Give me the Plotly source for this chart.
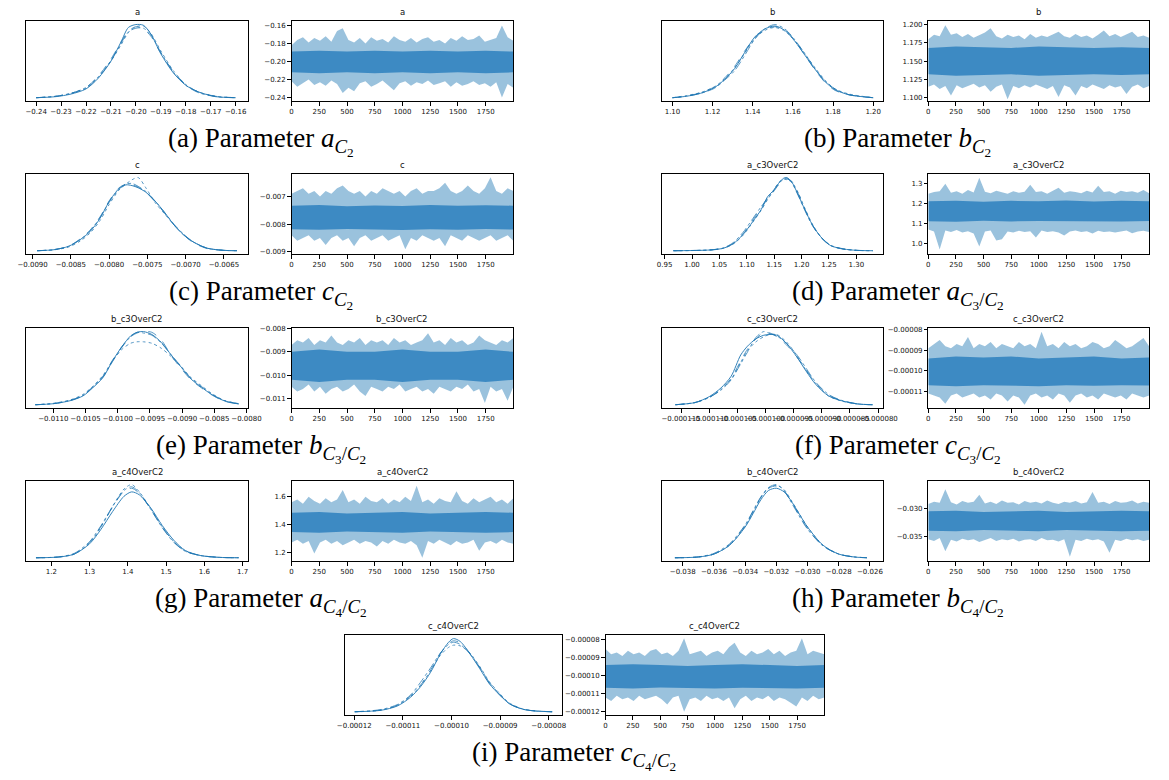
import numpy as np
import plotly.graph_objects as go

W, H = 1169, 780

# ---------------- data ----------------
# KDE curves: x grid and relative density of the 4 chains
a_kde_x = [-0.240, -0.232, -0.226, -0.220, -0.215, -0.210, -0.206, -0.203, -0.200, -0.197, -0.194, -0.190, -0.185, -0.180, -0.175, -0.168, -0.160]
a_kde_1 = [0.0, 0.015, 0.05, 0.12, 0.27, 0.50, 0.76, 0.96, 1.00, 0.99, 0.87, 0.60, 0.34, 0.17, 0.08, 0.015, 0.0]
a_kde_2 = [0.0, 0.02, 0.06, 0.14, 0.30, 0.53, 0.76, 0.91, 0.97, 0.94, 0.84, 0.61, 0.36, 0.18, 0.08, 0.02, 0.0]
a_kde_3 = [0.0, 0.02, 0.06, 0.13, 0.28, 0.51, 0.74, 0.90, 0.95, 0.95, 0.86, 0.62, 0.35, 0.17, 0.07, 0.015, 0.0]
a_kde_4 = [0.0, 0.02, 0.06, 0.14, 0.29, 0.50, 0.72, 0.89, 0.97, 0.98, 0.88, 0.64, 0.37, 0.18, 0.08, 0.02, 0.0]

b_kde_x = [1.100, 1.107, 1.114, 1.121, 1.126, 1.131, 1.136, 1.141, 1.146, 1.151, 1.156, 1.161, 1.166, 1.171, 1.176, 1.181, 1.188, 1.200]
b_kde_1 = [0.0, 0.02, 0.06, 0.14, 0.25, 0.40, 0.62, 0.83, 0.94, 0.98, 0.92, 0.77, 0.58, 0.39, 0.22, 0.11, 0.04, 0.0]
b_kde_2 = [0.0, 0.02, 0.07, 0.15, 0.27, 0.43, 0.64, 0.82, 0.93, 0.97, 0.93, 0.78, 0.58, 0.38, 0.21, 0.10, 0.04, 0.0]
b_kde_3 = [0.0, 0.02, 0.06, 0.13, 0.24, 0.37, 0.58, 0.80, 0.94, 1.00, 0.94, 0.79, 0.60, 0.40, 0.23, 0.12, 0.04, 0.0]
b_kde_4 = [0.0, 0.03, 0.07, 0.15, 0.26, 0.41, 0.61, 0.81, 0.92, 0.96, 0.91, 0.78, 0.60, 0.41, 0.24, 0.12, 0.05, 0.0]

c_kde_x = [-0.00894, -0.00872, -0.00853, -0.00838, -0.00825, -0.00812, -0.00800, -0.00787, -0.00778, -0.00770, -0.00762, -0.00752, -0.00740, -0.00728, -0.00715, -0.00703, -0.00690, -0.00672, -0.00650, -0.00633]
c_kde_1 = [0.0, 0.014, 0.06, 0.15, 0.26, 0.44, 0.67, 0.85, 0.90, 0.89, 0.86, 0.80, 0.68, 0.53, 0.35, 0.22, 0.12, 0.035, 0.005, 0.0]
c_kde_2 = [0.0, 0.016, 0.06, 0.16, 0.28, 0.46, 0.68, 0.86, 0.91, 0.90, 0.87, 0.80, 0.67, 0.52, 0.35, 0.22, 0.11, 0.03, 0.005, 0.0]
c_kde_3 = [0.0, 0.014, 0.06, 0.15, 0.27, 0.45, 0.66, 0.84, 0.91, 0.92, 0.88, 0.81, 0.68, 0.53, 0.36, 0.23, 0.12, 0.035, 0.005, 0.0]
c_kde_4 = [0.0, 0.012, 0.05, 0.13, 0.24, 0.41, 0.63, 0.83, 0.91, 0.97, 1.00, 0.86, 0.66, 0.51, 0.35, 0.22, 0.12, 0.035, 0.005, 0.0]

d_kde_x = [0.966, 1.016, 1.040, 1.058, 1.075, 1.093, 1.111, 1.126, 1.138, 1.147, 1.158, 1.167, 1.173, 1.182, 1.194, 1.206, 1.220, 1.235, 1.253, 1.277, 1.300, 1.330]
d_kde_1 = [0.0, 0.005, 0.014, 0.036, 0.095, 0.22, 0.40, 0.56, 0.74, 0.81, 0.92, 0.99, 1.00, 0.94, 0.76, 0.56, 0.35, 0.19, 0.07, 0.023, 0.005, 0.0]
d_kde_2 = [0.0, 0.006, 0.016, 0.04, 0.10, 0.23, 0.42, 0.58, 0.71, 0.79, 0.90, 0.97, 0.98, 0.95, 0.78, 0.57, 0.35, 0.18, 0.07, 0.02, 0.005, 0.0]
d_kde_3 = [0.0, 0.005, 0.015, 0.04, 0.11, 0.25, 0.44, 0.60, 0.72, 0.80, 0.91, 0.98, 0.99, 0.93, 0.75, 0.55, 0.34, 0.19, 0.075, 0.025, 0.006, 0.0]
d_kde_4 = [0.0, 0.005, 0.013, 0.035, 0.09, 0.21, 0.39, 0.55, 0.70, 0.80, 0.93, 0.98, 0.97, 0.94, 0.79, 0.58, 0.36, 0.19, 0.07, 0.022, 0.005, 0.0]

e_kde_x = [-0.01128, -0.01100, -0.01074, -0.01054, -0.01039, -0.01023, -0.01008, -0.00993, -0.00980, -0.00970, -0.00960, -0.00947, -0.00932, -0.00916, -0.00901, -0.00886, -0.00870, -0.00855, -0.00835, -0.00812]
e_kde_1 = [0.0, 0.014, 0.055, 0.12, 0.23, 0.37, 0.60, 0.80, 0.94, 0.99, 1.00, 0.96, 0.85, 0.67, 0.51, 0.35, 0.24, 0.145, 0.055, 0.01]
e_kde_2 = [0.0, 0.015, 0.055, 0.125, 0.24, 0.39, 0.61, 0.80, 0.93, 0.98, 1.00, 0.99, 0.88, 0.66, 0.49, 0.34, 0.23, 0.14, 0.05, 0.01]
e_kde_3 = [0.0, 0.015, 0.06, 0.13, 0.24, 0.38, 0.59, 0.79, 0.93, 0.99, 0.98, 0.95, 0.84, 0.67, 0.52, 0.36, 0.25, 0.15, 0.06, 0.012]
e_kde_4 = [0.0, 0.02, 0.065, 0.14, 0.25, 0.40, 0.60, 0.76, 0.84, 0.86, 0.86, 0.84, 0.77, 0.65, 0.51, 0.37, 0.26, 0.16, 0.06, 0.015]

f_kde_x = [-1.160e-4, -1.125e-4, -1.100e-4, -1.079e-4, -1.061e-4, -1.044e-4, -1.032e-4, -1.017e-4, -1.003e-4, -0.992e-4, -0.980e-4, -0.963e-4, -0.945e-4, -0.928e-4, -0.911e-4, -0.888e-4, -0.865e-4, -0.836e-4, -0.810e-4]
f_kde_1 = [0.0, 0.03, 0.11, 0.23, 0.39, 0.68, 0.80, 0.90, 0.95, 0.96, 0.95, 0.84, 0.66, 0.46, 0.28, 0.12, 0.055, 0.01, 0.0]
f_kde_2 = [0.0, 0.03, 0.10, 0.21, 0.36, 0.60, 0.76, 0.90, 0.99, 0.98, 0.93, 0.82, 0.66, 0.48, 0.30, 0.13, 0.055, 0.01, 0.0]
f_kde_3 = [0.0, 0.03, 0.10, 0.20, 0.34, 0.56, 0.72, 0.92, 1.00, 0.97, 0.94, 0.84, 0.69, 0.50, 0.31, 0.14, 0.06, 0.012, 0.0]
f_kde_4 = [0.0, 0.03, 0.10, 0.21, 0.35, 0.58, 0.74, 0.86, 0.93, 0.96, 0.96, 0.86, 0.68, 0.47, 0.29, 0.12, 0.05, 0.01, 0.0]

g_kde_x = [1.160, 1.220, 1.260, 1.300, 1.330, 1.360, 1.390, 1.410, 1.430, 1.460, 1.490, 1.520, 1.550, 1.590, 1.640, 1.690]
g_kde_1 = [0.0, 0.01, 0.05, 0.19, 0.39, 0.63, 0.84, 0.90, 0.86, 0.68, 0.44, 0.24, 0.10, 0.03, 0.005, 0.0]
g_kde_2 = [0.0, 0.01, 0.05, 0.21, 0.43, 0.69, 0.91, 0.95, 0.88, 0.66, 0.42, 0.22, 0.09, 0.03, 0.005, 0.0]
g_kde_3 = [0.0, 0.012, 0.06, 0.22, 0.44, 0.70, 0.92, 0.97, 0.89, 0.66, 0.41, 0.21, 0.09, 0.03, 0.005, 0.0]
g_kde_4 = [0.0, 0.01, 0.05, 0.20, 0.42, 0.70, 0.94, 1.00, 0.90, 0.67, 0.42, 0.22, 0.09, 0.03, 0.005, 0.0]

h_kde_x = [-0.0385, -0.0370, -0.0360, -0.0350, -0.0340, -0.0335, -0.0330, -0.0325, -0.0320, -0.0315, -0.0310, -0.0300, -0.0290, -0.0280, -0.0270, -0.0262]
h_kde_1 = [0.0, 0.01, 0.05, 0.17, 0.42, 0.60, 0.79, 0.92, 0.95, 0.90, 0.76, 0.42, 0.17, 0.05, 0.01, 0.0]
h_kde_2 = [0.0, 0.01, 0.05, 0.18, 0.44, 0.63, 0.82, 0.95, 0.98, 0.91, 0.75, 0.40, 0.16, 0.05, 0.01, 0.0]
h_kde_3 = [0.0, 0.012, 0.06, 0.19, 0.45, 0.64, 0.83, 0.96, 1.00, 0.92, 0.74, 0.39, 0.16, 0.05, 0.012, 0.0]
h_kde_4 = [0.0, 0.01, 0.05, 0.17, 0.43, 0.62, 0.82, 0.95, 0.99, 0.93, 0.77, 0.42, 0.17, 0.05, 0.01, 0.0]

i_kde_x = [-1.199e-4, -1.145e-4, -1.111e-4, -1.084e-4, -1.064e-4, -1.043e-4, -1.023e-4, -1.006e-4, -0.996e-4, -0.982e-4, -0.962e-4, -0.942e-4, -0.922e-4, -0.901e-4, -0.881e-4, -0.854e-4, -0.827e-4, -0.793e-4]
i_kde_1 = [0.0, 0.02, 0.08, 0.20, 0.34, 0.54, 0.79, 0.95, 1.00, 0.96, 0.79, 0.59, 0.38, 0.23, 0.11, 0.036, 0.01, 0.0]
i_kde_2 = [0.0, 0.025, 0.09, 0.22, 0.36, 0.57, 0.80, 0.93, 0.97, 0.94, 0.80, 0.60, 0.39, 0.23, 0.11, 0.035, 0.01, 0.0]
i_kde_3 = [0.0, 0.03, 0.10, 0.23, 0.40, 0.60, 0.80, 0.92, 0.95, 0.92, 0.79, 0.61, 0.40, 0.24, 0.11, 0.035, 0.01, 0.0]
i_kde_4 = [0.0, 0.02, 0.09, 0.21, 0.36, 0.56, 0.77, 0.88, 0.91, 0.90, 0.80, 0.62, 0.41, 0.25, 0.12, 0.04, 0.012, 0.0]

# Trace plots: upper / lower spike envelopes (40 samples over 0..1999) and dense core band (9 samples)
a_hi = [-0.182, -0.176, -0.173, -0.179, -0.174, -0.177, -0.172, -0.178, -0.166, -0.163, -0.176, -0.179, -0.174, -0.180, -0.173, -0.177, -0.175, -0.179, -0.172, -0.176, -0.178, -0.174, -0.179, -0.175, -0.173, -0.178, -0.176, -0.180, -0.174, -0.177, -0.172, -0.176, -0.175, -0.171, -0.178, -0.176, -0.174, -0.160, -0.173, -0.177]
a_lo = [-0.222, -0.228, -0.224, -0.220, -0.226, -0.223, -0.227, -0.221, -0.225, -0.235, -0.229, -0.233, -0.224, -0.222, -0.228, -0.225, -0.221, -0.226, -0.232, -0.224, -0.222, -0.227, -0.223, -0.225, -0.221, -0.226, -0.224, -0.222, -0.228, -0.223, -0.227, -0.225, -0.222, -0.226, -0.224, -0.228, -0.223, -0.240, -0.225, -0.229]
a_core_hi = [-0.189, -0.188, -0.189, -0.188, -0.189, -0.188, -0.189, -0.188, -0.189]
a_core_lo = [-0.212, -0.213, -0.212, -0.213, -0.212, -0.213, -0.212, -0.213, -0.212]

b_hi = [1.180, 1.186, 1.184, 1.199, 1.186, 1.188, 1.183, 1.187, 1.182, 1.185, 1.189, 1.195, 1.184, 1.181, 1.186, 1.183, 1.185, 1.180, 1.187, 1.182, 1.185, 1.183, 1.186, 1.190, 1.184, 1.182, 1.187, 1.183, 1.185, 1.181, 1.186, 1.192, 1.184, 1.187, 1.183, 1.186, 1.190, 1.183, 1.185, 1.182]
b_lo = [1.115, 1.118, 1.112, 1.116, 1.103, 1.117, 1.113, 1.116, 1.119, 1.114, 1.117, 1.108, 1.115, 1.118, 1.098, 1.116, 1.113, 1.117, 1.114, 1.118, 1.115, 1.112, 1.116, 1.101, 1.117, 1.114, 1.103, 1.116, 1.113, 1.118, 1.115, 1.112, 1.117, 1.114, 1.116, 1.105, 1.115, 1.118, 1.113, 1.116]
b_core_hi = [1.168, 1.170, 1.169, 1.168, 1.170, 1.169, 1.168, 1.169, 1.168]
b_core_lo = [1.132, 1.130, 1.131, 1.132, 1.130, 1.131, 1.132, 1.131, 1.132]

c_hi = [-0.0069, -0.0068, -0.0067, -0.0069, -0.0068, -0.0070, -0.0068, -0.0069, -0.0067, -0.0066, -0.0068, -0.0069, -0.0068, -0.0070, -0.0068, -0.0069, -0.0067, -0.0068, -0.0069, -0.0068, -0.0070, -0.0068, -0.0067, -0.0069, -0.0068, -0.0068, -0.0067, -0.0065, -0.0068, -0.0069, -0.0068, -0.0066, -0.0068, -0.0069, -0.0067, -0.0063, -0.0068, -0.0069, -0.0067, -0.0068]
c_lo = [-0.0084, -0.0086, -0.0085, -0.0084, -0.0086, -0.0085, -0.00875, -0.0085, -0.0084, -0.0086, -0.0085, -0.0088, -0.0085, -0.0084, -0.0086, -0.0085, -0.0084, -0.0086, -0.0085, -0.0084, -0.0089, -0.0085, -0.0086, -0.0084, -0.0085, -0.0086, -0.0085, -0.0088, -0.0084, -0.0085, -0.0086, -0.0084, -0.0085, -0.0086, -0.0085, -0.0084, -0.0086, -0.0085, -0.0084, -0.0086]
c_core_hi = [-0.00733, -0.00730, -0.00735, -0.00732, -0.00734, -0.00730, -0.00733, -0.00731, -0.00733]
c_core_lo = [-0.00818, -0.00820, -0.00817, -0.00819, -0.00821, -0.00818, -0.00820, -0.00817, -0.00819]

d_hi = [1.250, 1.258, 1.262, 1.300, 1.255, 1.262, 1.250, 1.268, 1.256, 1.330, 1.260, 1.252, 1.264, 1.258, 1.250, 1.262, 1.255, 1.260, 1.295, 1.258, 1.262, 1.250, 1.264, 1.280, 1.255, 1.262, 1.258, 1.252, 1.265, 1.256, 1.290, 1.258, 1.262, 1.250, 1.264, 1.258, 1.262, 1.255, 1.268, 1.252]
d_lo = [1.070, 1.060, 0.970, 1.065, 1.058, 1.068, 1.055, 1.062, 1.050, 0.985, 1.060, 1.066, 1.015, 1.022, 1.060, 1.055, 1.064, 1.058, 1.062, 1.030, 1.066, 1.058, 1.062, 1.055, 1.040, 1.060, 1.066, 1.058, 1.062, 1.050, 1.064, 1.058, 1.060, 1.055, 1.062, 1.066, 1.052, 1.060, 1.064, 1.058]
d_core_hi = [1.212, 1.215, 1.210, 1.214, 1.212, 1.216, 1.211, 1.214, 1.212]
d_core_lo = [1.112, 1.110, 1.114, 1.111, 1.113, 1.110, 1.112, 1.111, 1.113]

e_hi = [-0.0087, -0.0085, -0.0086, -0.0084, -0.0087, -0.0085, -0.0086, -0.0083, -0.0086, -0.0087, -0.0085, -0.0086, -0.0084, -0.0087, -0.0085, -0.0086, -0.0085, -0.0087, -0.0084, -0.0086, -0.0085, -0.0087, -0.0086, -0.0085, -0.0082, -0.0086, -0.0085, -0.0087, -0.0084, -0.0086, -0.0085, -0.0087, -0.0086, -0.0083, -0.0085, -0.0086, -0.0087, -0.0085, -0.0086, -0.0084]
e_lo = [-0.0105, -0.0107, -0.0106, -0.0104, -0.0107, -0.0105, -0.0108, -0.0106, -0.0105, -0.0107, -0.0106, -0.0104, -0.0107, -0.0109, -0.0105, -0.0106, -0.0107, -0.0105, -0.0106, -0.0104, -0.0107, -0.0106, -0.0105, -0.0107, -0.0106, -0.0108, -0.0105, -0.0106, -0.0107, -0.0105, -0.0106, -0.0104, -0.0107, -0.0106, -0.0112, -0.0105, -0.0107, -0.0106, -0.0111, -0.0105]
e_core_hi = [-0.0090, -0.0089, -0.0090, -0.0090, -0.0089, -0.0090, -0.0090, -0.0089, -0.0090]
e_core_lo = [-0.0102, -0.0103, -0.0102, -0.0102, -0.0103, -0.0102, -0.0102, -0.0103, -0.0102]

f_hi = [-8.9e-5, -8.7e-5, -8.5e-5, -8.8e-5, -8.9e-5, -8.7e-5, -8.8e-5, -8.35e-5, -8.9e-5, -8.7e-5, -8.8e-5, -8.6e-5, -8.9e-5, -8.7e-5, -8.8e-5, -8.9e-5, -8.6e-5, -8.8e-5, -8.7e-5, -8.9e-5, -8.1e-5, -8.8e-5, -8.7e-5, -8.9e-5, -8.6e-5, -8.8e-5, -8.7e-5, -8.9e-5, -8.8e-5, -8.6e-5, -8.7e-5, -8.9e-5, -8.8e-5, -8.5e-5, -8.7e-5, -8.9e-5, -8.8e-5, -8.6e-5, -8.4e-5, -8.8e-5]
f_lo = [-1.11e-4, -1.12e-4, -1.13e-4, -1.16e-4, -1.12e-4, -1.11e-4, -1.13e-4, -1.12e-4, -1.11e-4, -1.13e-4, -1.12e-4, -1.14e-4, -1.11e-4, -1.12e-4, -1.15e-4, -1.12e-4, -1.13e-4, -1.165e-4, -1.12e-4, -1.11e-4, -1.13e-4, -1.12e-4, -1.14e-4, -1.11e-4, -1.12e-4, -1.155e-4, -1.12e-4, -1.11e-4, -1.13e-4, -1.12e-4, -1.14e-4, -1.11e-4, -1.12e-4, -1.13e-4, -1.12e-4, -1.14e-4, -1.11e-4, -1.12e-4, -1.13e-4, -1.12e-4]
f_core_hi = [-9.4e-5, -9.3e-5, -9.35e-5, -9.3e-5, -9.4e-5, -9.35e-5, -9.3e-5, -9.4e-5, -9.35e-5]
f_core_lo = [-1.07e-4, -1.075e-4, -1.07e-4, -1.072e-4, -1.075e-4, -1.07e-4, -1.073e-4, -1.07e-4, -1.072e-4]

g_hi = [1.56, 1.58, 1.55, 1.60, 1.57, 1.55, 1.59, 1.56, 1.58, 1.65, 1.56, 1.58, 1.55, 1.60, 1.57, 1.56, 1.59, 1.55, 1.58, 1.56, 1.60, 1.57, 1.68, 1.56, 1.58, 1.55, 1.59, 1.57, 1.56, 1.64, 1.57, 1.55, 1.59, 1.56, 1.58, 1.60, 1.56, 1.58, 1.55, 1.59]
g_lo = [1.27, 1.29, 1.26, 1.28, 1.19, 1.27, 1.29, 1.26, 1.28, 1.25, 1.27, 1.29, 1.26, 1.28, 1.27, 1.24, 1.28, 1.26, 1.29, 1.27, 1.26, 1.28, 1.25, 1.16, 1.28, 1.26, 1.29, 1.27, 1.25, 1.28, 1.26, 1.27, 1.29, 1.21, 1.27, 1.28, 1.26, 1.29, 1.27, 1.26]
g_core_hi = [1.485, 1.49, 1.48, 1.485, 1.49, 1.48, 1.485, 1.49, 1.485]
g_core_lo = [1.345, 1.34, 1.35, 1.345, 1.34, 1.35, 1.345, 1.34, 1.345]

h_hi = [-0.0292, -0.0288, -0.0290, -0.0266, -0.0289, -0.0293, -0.0287, -0.0290, -0.0288, -0.0276, -0.0291, -0.0288, -0.0292, -0.0286, -0.0290, -0.0289, -0.0293, -0.0287, -0.0290, -0.0288, -0.0291, -0.0286, -0.0290, -0.0292, -0.0288, -0.0290, -0.0287, -0.0291, -0.0289, -0.0271, -0.0290, -0.0288, -0.0292, -0.0287, -0.0290, -0.0289, -0.0286, -0.0291, -0.0288, -0.0290]
h_lo = [-0.0354, -0.0357, -0.0352, -0.0375, -0.0355, -0.0358, -0.0353, -0.0356, -0.0354, -0.0359, -0.0355, -0.0352, -0.0357, -0.0354, -0.0356, -0.0353, -0.0358, -0.0355, -0.0354, -0.0357, -0.0352, -0.0356, -0.0355, -0.0358, -0.0354, -0.0385, -0.0355, -0.0357, -0.0353, -0.0356, -0.0354, -0.0358, -0.0378, -0.0355, -0.0357, -0.0353, -0.0356, -0.0354, -0.0357, -0.0355]
h_core_hi = [-0.0305, -0.0304, -0.0306, -0.0305, -0.0304, -0.0306, -0.0305, -0.0304, -0.0305]
h_core_lo = [-0.0339, -0.0340, -0.0338, -0.0339, -0.0340, -0.0338, -0.0339, -0.0340, -0.0339]

i_hi = [-8.5e-5, -8.8e-5, -8.7e-5, -8.9e-5, -8.6e-5, -8.8e-5, -8.7e-5, -8.9e-5, -8.6e-5, -8.5e-5, -8.8e-5, -8.7e-5, -8.9e-5, -8.6e-5, -7.9e-5, -8.8e-5, -8.7e-5, -8.6e-5, -8.9e-5, -8.7e-5, -8.6e-5, -8.8e-5, -8.4e-5, -8.15e-5, -8.7e-5, -8.9e-5, -8.6e-5, -8.8e-5, -8.7e-5, -8.5e-5, -8.8e-5, -8.6e-5, -8.9e-5, -8.7e-5, -8.6e-5, -7.9e-5, -8.8e-5, -8.6e-5, -8.7e-5, -8.8e-5]
i_lo = [-1.12e-4, -1.14e-4, -1.11e-4, -1.13e-4, -1.12e-4, -1.14e-4, -1.11e-4, -1.13e-4, -1.12e-4, -1.11e-4, -1.13e-4, -1.16e-4, -1.12e-4, -1.11e-4, -1.20e-4, -1.13e-4, -1.12e-4, -1.14e-4, -1.11e-4, -1.13e-4, -1.12e-4, -1.14e-4, -1.12e-4, -1.18e-4, -1.13e-4, -1.11e-4, -1.14e-4, -1.12e-4, -1.13e-4, -1.11e-4, -1.14e-4, -1.12e-4, -1.13e-4, -1.15e-4, -1.17e-4, -1.12e-4, -1.14e-4, -1.11e-4, -1.13e-4, -1.12e-4]
i_core_hi = [-9.4e-5, -9.35e-5, -9.4e-5, -9.45e-5, -9.4e-5, -9.35e-5, -9.4e-5, -9.45e-5, -9.4e-5]
i_core_lo = [-1.066e-4, -1.07e-4, -1.065e-4, -1.068e-4, -1.07e-4, -1.066e-4, -1.068e-4, -1.07e-4, -1.066e-4]

# Tick labels
trace_xticks = [0, 250, 500, 750, 1000, 1250, 1500, 1750]
a_kde_ticks = [-0.24, -0.23, -0.22, -0.21, -0.20, -0.19, -0.18, -0.17, -0.16]
a_kde_text = ["−0.24", "−0.23", "−0.22", "−0.21", "−0.20", "−0.19", "−0.18", "−0.17", "−0.16"]
a_tr_ticks = [-0.24, -0.22, -0.20, -0.18, -0.16]
a_tr_text = ["−0.24", "−0.22", "−0.20", "−0.18", "−0.16"]
b_kde_ticks = [1.10, 1.12, 1.14, 1.16, 1.18, 1.20]
b_kde_text = ["1.10", "1.12", "1.14", "1.16", "1.18", "1.20"]
b_tr_ticks = [1.100, 1.125, 1.150, 1.175, 1.200]
b_tr_text = ["1.100", "1.125", "1.150", "1.175", "1.200"]
c_kde_ticks = [-0.0090, -0.0085, -0.0080, -0.0075, -0.0070, -0.0065]
c_kde_text = ["−0.0090", "−0.0085", "−0.0080", "−0.0075", "−0.0070", "−0.0065"]
c_tr_ticks = [-0.009, -0.008, -0.007]
c_tr_text = ["−0.009", "−0.008", "−0.007"]
d_kde_ticks = [0.95, 1.00, 1.05, 1.10, 1.15, 1.20, 1.25, 1.30, 1.35]
d_kde_text = ["0.95", "1.00", "1.05", "1.10", "1.15", "1.20", "1.25", "1.30", "1.35"]
d_tr_ticks = [1.0, 1.1, 1.2, 1.3]
d_tr_text = ["1.0", "1.1", "1.2", "1.3"]
e_kde_ticks = [-0.0110, -0.0105, -0.0100, -0.0095, -0.0090, -0.0085, -0.0080]
e_kde_text = ["−0.0110", "−0.0105", "−0.0100", "−0.0095", "−0.0090", "−0.0085", "−0.0080"]
e_tr_ticks = [-0.011, -0.010, -0.009, -0.008]
e_tr_text = ["−0.011", "−0.010", "−0.009", "−0.008"]
f_kde_ticks = [-0.000115, -0.000110, -0.000105, -0.000100, -0.000095, -0.000090, -0.000085, -0.000080]
f_kde_text = ["−0.000115", "−0.000110", "−0.000105", "−0.000100", "−0.000095", "−0.000090", "−0.000085", "−0.000080"]
f_tr_ticks = [-0.00011, -0.00010, -0.00009, -0.00008]
f_tr_text = ["−0.00011", "−0.00010", "−0.00009", "−0.00008"]
g_kde_ticks = [1.2, 1.3, 1.4, 1.5, 1.6, 1.7]
g_kde_text = ["1.2", "1.3", "1.4", "1.5", "1.6", "1.7"]
g_tr_ticks = [1.2, 1.4, 1.6]
g_tr_text = ["1.2", "1.4", "1.6"]
h_kde_ticks = [-0.038, -0.036, -0.034, -0.032, -0.030, -0.028, -0.026]
h_kde_text = ["−0.038", "−0.036", "−0.034", "−0.032", "−0.030", "−0.028", "−0.026"]
h_tr_ticks = [-0.035, -0.030]
h_tr_text = ["−0.035", "−0.030"]
i_kde_ticks = [-0.00012, -0.00011, -0.00010, -0.00009, -0.00008]
i_kde_text = ["−0.00012", "−0.00011", "−0.00010", "−0.00009", "−0.00008"]
i_tr_ticks = [-0.00012, -0.00011, -0.00010, -0.00009, -0.00008]
i_tr_text = ["−0.00012", "−0.00011", "−0.00010", "−0.00009", "−0.00008"]

names = ["a", "b", "c", "a_c3OverC2", "b_c3OverC2", "c_c3OverC2", "a_c4OverC2", "b_c4OverC2", "c_c4OverC2"]
captions = [
    "(a) Parameter <i>a</i><sub><i>C</i><sub>2</sub></sub>",
    "(b) Parameter <i>b</i><sub><i>C</i><sub>2</sub></sub>",
    "(c) Parameter <i>c</i><sub><i>C</i><sub>2</sub></sub>",
    "(d) Parameter <i>a</i><sub><i>C</i><sub>3</sub>/<i>C</i><sub>2</sub></sub>",
    "(e) Parameter <i>b</i><sub><i>C</i><sub>3</sub>/<i>C</i><sub>2</sub></sub>",
    "(f) Parameter <i>c</i><sub><i>C</i><sub>3</sub>/<i>C</i><sub>2</sub></sub>",
    "(g) Parameter <i>a</i><sub><i>C</i><sub>4</sub>/<i>C</i><sub>2</sub></sub>",
    "(h) Parameter <i>b</i><sub><i>C</i><sub>4</sub>/<i>C</i><sub>2</sub></sub>",
    "(i) Parameter <i>c</i><sub><i>C</i><sub>4</sub>/<i>C</i><sub>2</sub></sub>",
]
ranges = [[-0.2442, -0.1549], [1.0950, 1.2050], [-0.00909, -0.00618], [0.946, 1.349],
          [-0.01143, -0.00797], [-0.0001183, -0.0000791], [1.133, 1.715],
          [-0.03930, -0.02515], [-0.0001220, -0.0000772]]

kde = [
    (a_kde_x, [a_kde_1, a_kde_2, a_kde_3, a_kde_4]),
    (b_kde_x, [b_kde_1, b_kde_2, b_kde_3, b_kde_4]),
    (c_kde_x, [c_kde_1, c_kde_2, c_kde_3, c_kde_4]),
    (d_kde_x, [d_kde_1, d_kde_2, d_kde_3, d_kde_4]),
    (e_kde_x, [e_kde_1, e_kde_2, e_kde_3, e_kde_4]),
    (f_kde_x, [f_kde_1, f_kde_2, f_kde_3, f_kde_4]),
    (g_kde_x, [g_kde_1, g_kde_2, g_kde_3, g_kde_4]),
    (h_kde_x, [h_kde_1, h_kde_2, h_kde_3, h_kde_4]),
    (i_kde_x, [i_kde_1, i_kde_2, i_kde_3, i_kde_4]),
]
traces = [
    (a_hi, a_lo, a_core_hi, a_core_lo), (b_hi, b_lo, b_core_hi, b_core_lo),
    (c_hi, c_lo, c_core_hi, c_core_lo), (d_hi, d_lo, d_core_hi, d_core_lo),
    (e_hi, e_lo, e_core_hi, e_core_lo), (f_hi, f_lo, f_core_hi, f_core_lo),
    (g_hi, g_lo, g_core_hi, g_core_lo), (h_hi, h_lo, h_core_hi, h_core_lo),
    (i_hi, i_lo, i_core_hi, i_core_lo),
]
ticks = [
    (a_kde_ticks, a_kde_text, a_tr_ticks, a_tr_text), (b_kde_ticks, b_kde_text, b_tr_ticks, b_tr_text),
    (c_kde_ticks, c_kde_text, c_tr_ticks, c_tr_text), (d_kde_ticks, d_kde_text, d_tr_ticks, d_tr_text),
    (e_kde_ticks, e_kde_text, e_tr_ticks, e_tr_text), (f_kde_ticks, f_kde_text, f_tr_ticks, f_tr_text),
    (g_kde_ticks, g_kde_text, g_tr_ticks, g_tr_text), (h_kde_ticks, h_kde_text, h_tr_ticks, h_tr_text),
    (i_kde_ticks, i_kde_text, i_tr_ticks, i_tr_text),
]

# ---------------- layout geometry (pixels) ----------------
ROW_TOP = [18, 172, 327, 481, 636]
BOX_H = 81
COLS = {
    "L": ((18, 245), (289, 515), 258),
    "R": ((667, 892), (938, 1163), 907),
    "C": ((343, 565), (609, 832), 577),
}
placement = [(0, "L"), (0, "R"), (1, "L"), (1, "R"), (2, "L"), (2, "R"), (3, "L"), (3, "R"), (4, "C")]
CAP_OFFSET = 121

C0 = "#1f77b4"
DASHES = ["solid", "dash", "dashdot", "dot"]
TICKFONT = dict(family="DejaVu Sans", size=7, color="#111")

fig = go.Figure()
layout = {}
annotations = []


def ax_name(kind, n):
    return f"{kind}axis" if n == 1 else f"{kind}axis{n}"


def ref(kind, n):
    return kind if n == 1 else f"{kind}{n}"


base_axis = dict(showline=True, mirror=True, linecolor="black", linewidth=0.8,
                 showgrid=False, zeroline=False, ticks="outside", ticklen=3.5,
                 tickwidth=0.8, tickcolor="black", tickfont=TICKFONT, fixedrange=True,
                 tickangle=0)

for k in range(9):
    row, col = placement[k]
    (kx0, kx1), (tx0, tx1), capx = COLS[col]
    top = ROW_TOP[row]
    bot = top + BOX_H
    ydom = [1 - bot / H, 1 - top / H]
    nk, nt = 2 * k + 1, 2 * k + 2
    rng = ranges[k]
    kt, ktt, tt, ttt = ticks[k]

    # --- KDE panel ---
    kx, kys = kde[k]
    for j, ky in enumerate(kys):
        fig.add_trace(go.Scatter(x=kx, y=ky, mode="lines", xaxis=ref("x", nk), yaxis=ref("y", nk),
                                 line=dict(color=C0, width=1, dash=DASHES[j], shape="spline", smoothing=0.8),
                                 opacity=0.9 if j == 0 else 0.75, showlegend=False, hoverinfo="skip"))
    layout[ax_name("x", nk)] = dict(base_axis, domain=[kx0 / W, kx1 / W], anchor=ref("y", nk), range=rng,
                                    tickmode="array", tickvals=kt, ticktext=ktt)
    layout[ax_name("y", nk)] = dict(base_axis, domain=ydom, anchor=ref("x", nk), range=[-0.05, 1.05],
                                    ticks="", showticklabels=False)

    # --- trace panel ---
    hi, lo, chi, clo = traces[k]
    xs = np.linspace(0, 1999, len(hi))
    xc = np.linspace(0, 1999, len(chi))
    fig.add_trace(go.Scatter(x=list(xs) + list(xs[::-1]), y=list(hi) + list(lo[::-1]), mode="lines",
                             fill="toself", fillcolor="rgba(31,119,180,0.45)", line=dict(width=0),
                             xaxis=ref("x", nt), yaxis=ref("y", nt), showlegend=False, hoverinfo="skip"))
    fig.add_trace(go.Scatter(x=list(xc) + list(xc[::-1]), y=list(chi) + list(clo[::-1]), mode="lines",
                             fill="toself", fillcolor="rgba(45,128,190,0.85)", line=dict(width=0),
                             xaxis=ref("x", nt), yaxis=ref("y", nt), showlegend=False, hoverinfo="skip"))
    layout[ax_name("x", nt)] = dict(base_axis, domain=[tx0 / W, tx1 / W], anchor=ref("y", nt), range=[0, 1999],
                                    tickmode="array", tickvals=trace_xticks,
                                    ticktext=[str(v) for v in trace_xticks])
    layout[ax_name("y", nt)] = dict(base_axis, domain=ydom, anchor=ref("x", nt), range=rng,
                                    tickmode="array", tickvals=tt, ticktext=ttt)

    # titles
    for (x0, x1) in [(kx0, kx1), (tx0, tx1)]:
        annotations.append(dict(x=(x0 + x1) / 2 / W, y=1 - (top - 1.5) / H, xref="paper", yref="paper",
                                text=names[k], showarrow=False, xanchor="center", yanchor="bottom",
                                font=dict(family="DejaVu Sans", size=8.5, color="#111")))
    # caption
    annotations.append(dict(x=capx / W, y=1 - (top + CAP_OFFSET) / H, xref="paper", yref="paper",
                            text=captions[k], showarrow=False, xanchor="center", yanchor="middle",
                            font=dict(family="Liberation Serif", size=27, color="black")))

fig.update_layout(**layout)
fig.update_layout(width=W, height=H, margin=dict(l=0, r=0, t=0, b=0),
                  plot_bgcolor="white", paper_bgcolor="white", annotations=annotations)
fig.write_html("out.html")
